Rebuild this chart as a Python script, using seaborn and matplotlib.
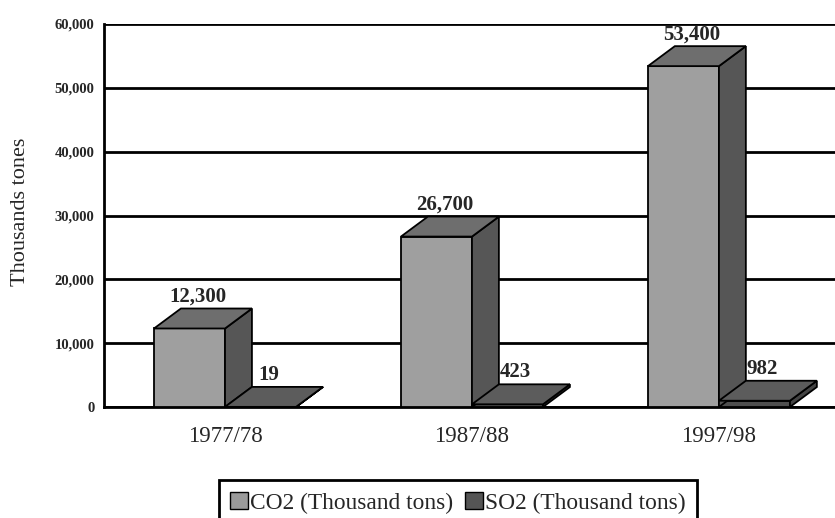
"""3D-style bar chart: CO2 and SO2 emissions by period."""

import matplotlib
matplotlib.use("Agg")
import matplotlib.pyplot as plt
from matplotlib.patches import Polygon, Patch
import pandas as pd
import seaborn as sns

# Data
periods = ["1977/78", "1987/88", "1997/98"]
co2_values = [12300, 26700, 53400]
so2_values = [19, 423, 982]
series_names = ["CO2 (Thousand tons)", "SO2 (Thousand tons)"]
value_labels = {"CO2 (Thousand tons)": ["12,300", "26,700", "53,400"],
                "SO2 (Thousand tons)": ["19", "423", "982"]}

# Face colours (front, top, side) per series
FACE_COLORS = {
    "CO2 (Thousand tons)": ("#9f9f9f", "#6e6e6e", "#565656"),
    "SO2 (Thousand tons)": ("#4e4e4e", "#5c5c5c", "#444444"),
}

df = pd.DataFrame({
    "period": periods * 2,
    "series": [series_names[0]] * 3 + [series_names[1]] * 3,
    "value": co2_values + so2_values,
})

sns.set_style("white")
plt.rcParams["font.family"] = ["Liberation Serif", "DejaVu Serif"]

fig = plt.figure(figsize=(8.35, 5.18), dpi=100)
ax = fig.add_axes([104 / 835, 1 - 407 / 518, 1 - 104 / 835, 383 / 518])

palette = {k: v[0] for k, v in FACE_COLORS.items()}
sns.barplot(data=df, x="period", y="value", hue="series", palette=palette,
            width=0.575, edgecolor="black", linewidth=1.3, saturation=1,
            ax=ax, zorder=3, legend=False)

ax.set_xlim(-0.49, 2.47)
ax.set_ylim(0, 60000)

# depth of the fake 3D boxes (data units)
depth_x = 0.109
depth_y = 3130

for container, name in zip(ax.containers, series_names):
    front, top_c, side_c = FACE_COLORS[name]
    for bar, lab in zip(container, value_labels[name]):
        x0 = bar.get_x()
        x1 = x0 + bar.get_width()
        h = bar.get_height()
        top = Polygon([(x0, h), (x1, h), (x1 + depth_x, h + depth_y),
                       (x0 + depth_x, h + depth_y)], closed=True,
                      facecolor=top_c, edgecolor="black", lw=1.3, zorder=4)
        side = Polygon([(x1, 0), (x1 + depth_x, depth_y),
                        (x1 + depth_x, h + depth_y), (x1, h)], closed=True,
                       facecolor=side_c, edgecolor="black", lw=1.3, zorder=4)
        ax.add_patch(side)
        ax.add_patch(top)
        ax.text((x0 + x1) / 2 + depth_x * 0.3, h + depth_y + 300, lab,
                ha="center", va="bottom", fontsize=15, fontweight="bold",
                zorder=5)

# axes styling
ax.set_yticks(range(0, 60001, 10000))
ax.set_yticklabels([f"{v:,}" for v in range(0, 60001, 10000)],
                   fontsize=10.5, fontweight="bold")
ax.yaxis.grid(True, color="black", lw=2, zorder=0)
ax.set_axisbelow(True)
ax.tick_params(axis="y", length=6, width=1.5, pad=1, color="black")
ax.tick_params(axis="x", length=0, pad=14, labelsize=16.5)
ax.set_xticks([0.5, 1.5], minor=True)
ax.tick_params(axis="x", which="minor", length=6, width=1.5, color="black")

for s in ["top", "right"]:
    ax.spines[s].set_visible(False)
ax.spines["left"].set_color("black")
ax.spines["left"].set_linewidth(2)
ax.spines["bottom"].set_color("black")
ax.spines["bottom"].set_linewidth(2)

ax.set_xlabel("")
ax.set_ylabel("Thousands tones", fontsize=16)
ax.yaxis.set_label_coords(-0.101, 0.51)

handles = [Patch(facecolor="#9a9a9a", edgecolor="black", lw=1),
           Patch(facecolor="#555555", edgecolor="black", lw=1)]
leg = fig.legend(handles, series_names, loc="center",
                 bbox_to_anchor=(458 / 835, 1 - 503 / 518), ncol=2,
                 fontsize=16.8, handlelength=0.75, handleheight=0.75,
                 handletextpad=0.1, columnspacing=0.5, borderpad=0.5,
                 fancybox=False, edgecolor="black", framealpha=1)
leg.get_frame().set_linewidth(2)

fig.savefig("out.png", dpi=100)
plt.close(fig)
